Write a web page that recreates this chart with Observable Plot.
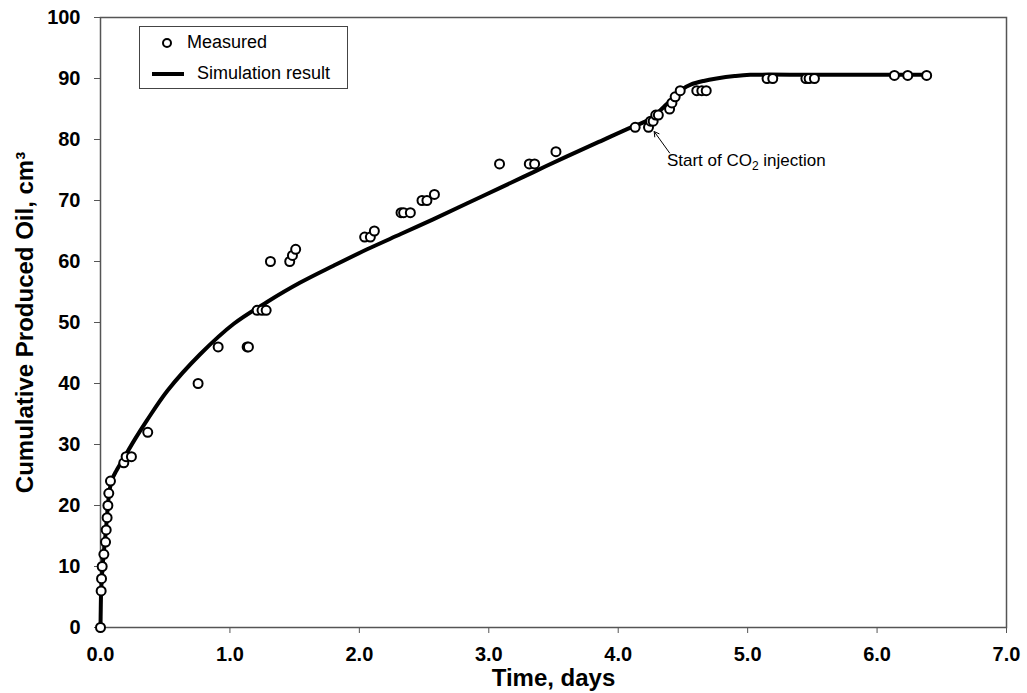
<!DOCTYPE html>
<html><head><meta charset="utf-8">
<script src="https://cdn.jsdelivr.net/npm/d3@7"></script>
<script src="https://cdn.jsdelivr.net/npm/@observablehq/plot@0.6"></script>
<style>
body{margin:0;background:#fff;font-family:Arial,"Liberation Sans",sans-serif;}
#wrap{position:relative;width:1027px;height:693px;}
#legend{position:absolute;left:139px;top:26px;width:207px;height:61px;border:1px solid #444;background:#fff;font-size:18px;color:#000;}
#legend .it{position:absolute;white-space:nowrap;line-height:20px;}
</style></head><body><div id="wrap"></div>
<script>
// Measured points (time in days, cumulative oil in cm3)
const measT = [0, 0.005, 0.008, 0.013, 0.026, 0.039, 0.044, 0.051, 0.057, 0.064, 0.077,
  0.18, 0.198, 0.239, 0.365, 0.754, 0.909, 1.133, 1.143, 1.21, 1.248, 1.28,
  1.313, 1.462, 1.483, 1.508, 2.041, 2.085, 2.116, 2.322, 2.342, 2.394, 2.484, 2.522, 2.58,
  3.083, 3.313, 3.354, 3.519, 4.131, 4.234, 4.25, 4.27, 4.29, 4.31, 4.397, 4.415, 4.44, 4.479,
  4.607, 4.646, 4.68, 5.15, 5.194, 5.45, 5.475, 5.516, 6.134, 6.237, 6.383];
const measV = [0, 6, 8, 10, 12, 14, 16, 18, 20, 22, 24,
  27, 28, 28, 32, 40, 46, 46, 46, 52, 52, 52,
  60, 60, 61, 62, 64, 64, 65, 68, 68, 68, 70, 70, 71,
  76, 76, 76, 78, 82, 82, 83, 83, 84, 84, 85, 86, 87, 88,
  88, 88, 88, 90, 90, 90, 90, 90, 90.5, 90.5, 90.5];

// Simulation result curve
const simT = [0, 0.002, 0.005, 0.02, 0.04, 0.07, 0.09, 0.12, 0.17, 0.27, 0.36, 0.52, 0.77, 1.03, 1.29,
  1.54, 1.80, 2.06, 2.32, 2.57, 2.83, 3.10, 3.35, 3.60, 3.85, 4.10, 4.15, 4.25, 4.35, 4.45,
  4.50, 4.56, 4.66, 4.76, 4.90, 5.02, 5.5, 6.0, 6.383];
const simV = [0, 3, 6, 11, 15.5, 22.5, 24.3, 25.6, 27.4, 31.0, 34.0, 38.9, 44.8, 49.8, 53.4,
  56.5, 59.3, 62, 64.5, 66.9, 69.5, 72.2, 74.7, 77.2, 79.6, 82.0, 82.4, 83.4, 85.3, 87.3,
  88.3, 89.0, 89.6, 90.0, 90.4, 90.6, 90.6, 90.6, 90.6];

const xTicks = [0, 1, 2, 3, 4, 5, 6, 7];
const yTicks = [0, 10, 20, 30, 40, 50, 60, 70, 80, 90, 100];
const xTitle = "Time, days";
const yTitle = "Cumulative Produced Oil, cm\u00B3";
const seriesNames = ["Measured", "Simulation result"];

// Annotation
const annLabel = ["Start of CO2 injection"];
const annTextX = [4.376], annTextY = [76.6];
const annTailX = [4.397], annTailY = [77.8];
const annHeadX = [4.278], annHeadY = [81.3];

const meas = measT.map((t, i) => ({t, v: measV[i]}));
const sim = simT.map((t, i) => ({t, v: simV[i]}));
const ann = annLabel.map((label, i) => ({label, tx: annTextX[i], ty: annTextY[i],
  x1: annTailX[i], y1: annTailY[i], x2: annHeadX[i], y2: annHeadY[i]}));

const FONT = "Arial, 'Liberation Sans', sans-serif";
const chart = Plot.plot({
  width: 1027, height: 693,
  marginLeft: 100, marginRight: 21, marginTop: 17, marginBottom: 66,
  x: {domain: [0, 7]},
  y: {domain: [0, 100]},
  style: {fontFamily: FONT, background: "#fff", overflow: "visible", color: "#000"},
  marks: [
    Plot.axisX({ticks: xTicks, tickFormat: d => d.toFixed(1), tickSize: 6, tickPadding: 13,
      fontSize: 20, fontWeight: "bold", stroke: "#555", fill: "#000", label: null}),
    Plot.axisY({ticks: yTicks, tickFormat: d => String(d), tickSize: 6, tickPadding: 14,
      fontSize: 20, fontWeight: "bold", stroke: "#555", fill: "#000", label: null}),
    Plot.frame({stroke: "#555", strokeWidth: 1.5}),
    Plot.line(sim, {x: "t", y: "v", stroke: "#000", strokeWidth: 4, curve: "catmull-rom"}),
    Plot.dot(meas, {x: "t", y: "v", r: 4.5, stroke: "#000", strokeWidth: 2, fill: "#fff"}),
    Plot.arrow(ann, {x1: "x1", y1: "y1", x2: "x2", y2: "y2", stroke: "#000", strokeWidth: 1, headLength: 8}),
    Plot.text(ann, {x: "tx", y: "ty", text: "label", textAnchor: "start", fontSize: 17, fill: "#000", className: "ann"}),
    Plot.text([xTitle], {frameAnchor: "bottom", lineAnchor: "middle", dy: 51, text: d => d, fontSize: 24, fontWeight: "bold", fill: "#000"}),
    Plot.text([yTitle], {frameAnchor: "left", textAnchor: "middle", dx: -75, rotate: -90, text: d => d, fontSize: 24, fontWeight: "bold", fill: "#000"})
  ]
});

// subscript the 2 in CO2
d3.select(chart).selectAll("g.ann text").each(function() {
  const s = this.textContent;
  const k = s.indexOf("CO2");
  if (k < 0) return;
  const el = d3.select(this);
  el.text(null);
  el.append("tspan").text(s.slice(0, k + 2));
  el.append("tspan").attr("dy", 4).attr("font-size", 12).text("2");
  el.append("tspan").attr("dy", -4).text(s.slice(k + 3));
});

const wrap = document.getElementById("wrap");
wrap.appendChild(chart);

// Legend
const lg = document.createElement("div");
lg.id = "legend";
lg.innerHTML =
  `<svg width="207" height="61" style="position:absolute;left:0;top:0">
     <circle cx="27" cy="16" r="4" fill="#fff" stroke="#000" stroke-width="2"></circle>
     <line x1="12" x2="44" y1="47" y2="47" stroke="#000" stroke-width="4"></line>
   </svg>
   <div class="it" style="left:47px;top:5px">${seriesNames[0]}</div>
   <div class="it" style="left:57px;top:36px">${seriesNames[1]}</div>`;
wrap.appendChild(lg);
</script></body></html>
